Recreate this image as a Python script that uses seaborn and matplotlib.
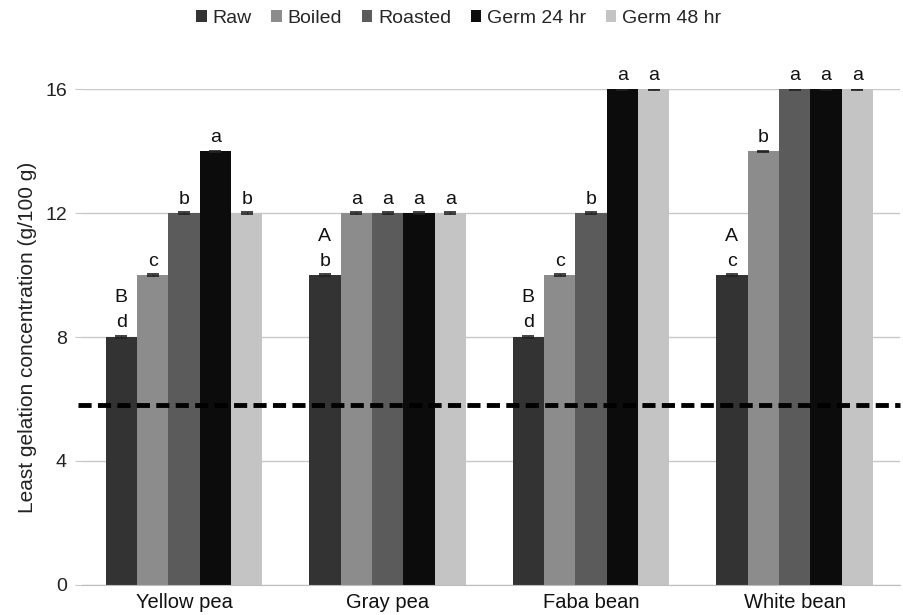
import pandas as pd
import matplotlib.pyplot as plt
import seaborn as sns

# data
legumes = ['Yellow pea', 'Gray pea', 'Faba bean', 'White bean']
treatments = ['Raw', 'Boiled', 'Roasted', 'Germ 24 hr', 'Germ 48 hr']
raw = [8, 10, 8, 10]
boiled = [10, 12, 10, 14]
roasted = [12, 12, 12, 16]
germ24 = [14, 12, 16, 16]
germ48 = [12, 12, 16, 16]
lower_letters = [
    ['d', 'c', 'b', 'a', 'b'],
    ['b', 'a', 'a', 'a', 'a'],
    ['d', 'c', 'b', 'a', 'a'],
    ['c', 'b', 'a', 'a', 'a'],
]
upper_letters = ['B', 'A', 'B', 'A']
threshold = 5.8

colors = ['#333333', '#8c8c8c', '#5b5b5b', '#0c0c0c', '#c4c4c4']

rows = []
for name, vals in zip(treatments, [raw, boiled, roasted, germ24, germ48]):
    for leg, v in zip(legumes, vals):
        rows.append({'Legume': leg, 'Treatment': name, 'LGC': v})
df = pd.DataFrame(rows)

sns.set_style('white')
plt.rcParams['font.family'] = ['Liberation Sans', 'DejaVu Sans']

fig = plt.figure(figsize=(9.04, 6.15), dpi=100)
ax = fig.add_axes([0.091, 0.049, 0.905, 0.806])

sns.barplot(data=df, x='Legume', y='LGC', hue='Treatment', order=legumes,
            hue_order=treatments, palette=colors, width=0.77, saturation=1,
            errorbar=None, linewidth=0, ax=ax, zorder=2)

# tiny error bar caps + significance letters
bar_groups = list(ax.containers)
for i, cont in enumerate(bar_groups):
    for j, bar in enumerate(cont.patches):
        xc = bar.get_x() + bar.get_width() / 2
        h = bar.get_height()
        ax.errorbar(xc, h, yerr=0.02, fmt='none', ecolor='#222222',
                    elinewidth=1, capsize=4, capthick=1.2, zorder=3)
        ax.annotate(lower_letters[j][i], (xc, h), xytext=(0, 4),
                    textcoords='offset points', ha='center', va='bottom',
                    fontsize=14, color='#111111', annotation_clip=False)
        if i == 0:
            ax.annotate(upper_letters[j], (xc, h), xytext=(0, 22),
                        textcoords='offset points', ha='center', va='bottom',
                        fontsize=14, color='#111111', annotation_clip=False)

ax.axhline(threshold, xmin=-0.005, color='black', lw=3.5,
           ls=(0, (2.7, 1.3)), zorder=4, clip_on=False)

ax.set_ylim(0, 16)
ax.set_xlim(-0.5, 3.52)
ax.set_yticks([0, 4, 8, 12, 16])
ax.yaxis.grid(True, color='#c8c8c8', lw=1)
ax.set_axisbelow(True)
for s in ['top', 'right', 'left']:
    ax.spines[s].set_visible(False)
ax.spines['bottom'].set_color('#bdbdbd')
ax.tick_params(axis='y', length=5, color='#c8c8c8', labelsize=14,
               labelcolor='#222222', pad=6, left=True)
ax.tick_params(axis='x', length=0, labelsize=14.5, labelcolor='#111111', pad=6)
ax.set_xlabel('')
ax.set_ylabel('Least gelation concentration (g/100 g)', fontsize=15,
              color='#222222', labelpad=6)

ax.legend(loc='center', bbox_to_anchor=(0.46, 1.143), ncol=5,
          frameon=False, fontsize=14, handlelength=0.55, handleheight=0.55,
          handletextpad=0.3, columnspacing=1.0)

fig.savefig('out.png', dpi=100)
